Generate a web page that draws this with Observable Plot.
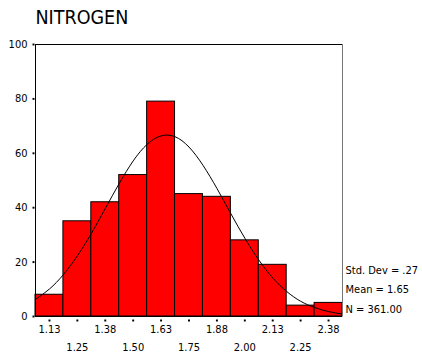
<!DOCTYPE html>
<html><head><meta charset="utf-8">
<script src="https://cdn.jsdelivr.net/npm/d3@7"></script>
<script src="https://cdn.jsdelivr.net/npm/@observablehq/plot@0.6"></script>
<style>body{margin:0;background:#fff}</style>
</head><body><div id="chart"></div>
<script>
const title = "NITROGEN";
const binCenters = [1.125, 1.25, 1.375, 1.5, 1.625, 1.75, 1.875, 2.0, 2.125, 2.25, 2.375];
const counts = [8, 35, 42, 52, 79, 45, 44, 28, 19, 4, 5];
const tickLabels = ["1.13", "1.25", "1.38", "1.50", "1.63", "1.75", "1.88", "2.00", "2.13", "2.25", "2.38"];
const yTicks = [0, 20, 40, 60, 80, 100];
const curveX = [1.0625, 1.125, 1.1875, 1.25, 1.3125, 1.375, 1.4375, 1.5, 1.5625, 1.625, 1.6875, 1.75, 1.8125, 1.875, 1.9375, 2.0, 2.0625, 2.125, 2.1875, 2.25, 2.3125, 2.375, 2.4375];
const curveY = [6.3, 10.1, 15.4, 22.3, 30.5, 39.7, 48.9, 57.2, 63.3, 66.4, 66.1, 62.3, 55.6, 47.1, 37.8, 28.8, 20.8, 14.2, 9.2, 5.6, 3.3, 1.8, 0.9];
const statLabels = ["Std. Dev = .27", "Mean = 1.65", "N = 361.00"];
const binWidth = 0.125;

const bars = binCenters.map((c, i) => ({x1: c - binWidth / 2, x2: c + binWidth / 2, y: counts[i]}));
const curve = curveX.map((x, i) => ({x, y: curveY[i]}));
const ticks = binCenters.map((v, i) => ({v, label: tickLabels[i], row: i % 2}));
const xMin = bars[0].x1, xMax = bars[bars.length - 1].x2;
const font = "'DejaVu Sans Condensed', 'DejaVu Sans', sans-serif";

const chart = Plot.plot({
  width: 422, height: 353,
  marginLeft: 35, marginRight: 80, marginTop: 44, marginBottom: 37,
  style: {fontFamily: font, fontSize: "11px", background: "#fff", color: "#000"},
  x: {domain: [xMin, xMax], axis: null},
  y: {domain: [0, 100], axis: null},
  marks: [
    Plot.rectY(bars, {x1: "x1", x2: "x2", y: "y", fill: "#ff0000", stroke: "#000", strokeWidth: 1}),
    Plot.line(curve, {x: "x", y: "y", curve: "natural", stroke: "#000", strokeWidth: 1}),
    Plot.ruleY([0, 100], {stroke: "#000", strokeWidth: 1}),
    Plot.ruleX([xMin], {stroke: "#000", strokeWidth: 1}),
    Plot.ruleX([xMax], {stroke: "#777", strokeWidth: 1}),
    Plot.axisY({ticks: yTicks, tickSize: 0, tickPadding: 8, fontSize: 11, label: null}),
    Plot.dot(yTicks, {y: d => d, frameAnchor: "left", dx: -2, symbol: "square", r: 1.1, fill: "#000", stroke: null}),
    Plot.dot(ticks, {x: "v", frameAnchor: "bottom", dy: 4, symbol: "square", r: 1.1, fill: "#000", stroke: null}),
    Plot.text(ticks.filter(d => d.row === 0), {x: "v", text: "label", frameAnchor: "bottom", dy: 13, lineAnchor: "middle", fontSize: 11}),
    Plot.text(ticks.filter(d => d.row === 1), {x: "v", text: "label", frameAnchor: "bottom", dy: 30.5, lineAnchor: "middle", fontSize: 11}),
    Plot.text([title], {frameAnchor: "top-left", dy: -27, textAnchor: "start", lineAnchor: "middle", fontSize: 19.5}),
    Plot.text([statLabels[0]], {frameAnchor: "bottom-right", dx: 3, dy: -46, textAnchor: "start", lineAnchor: "middle", fontSize: 11}),
    Plot.text([statLabels[1]], {frameAnchor: "bottom-right", dx: 3, dy: -27, textAnchor: "start", lineAnchor: "middle", fontSize: 11}),
    Plot.text([statLabels[2]], {frameAnchor: "bottom-right", dx: 3, dy: -7, textAnchor: "start", lineAnchor: "middle", fontSize: 11})
  ]
});
document.getElementById("chart").appendChild(chart);
</script>
</body></html>
